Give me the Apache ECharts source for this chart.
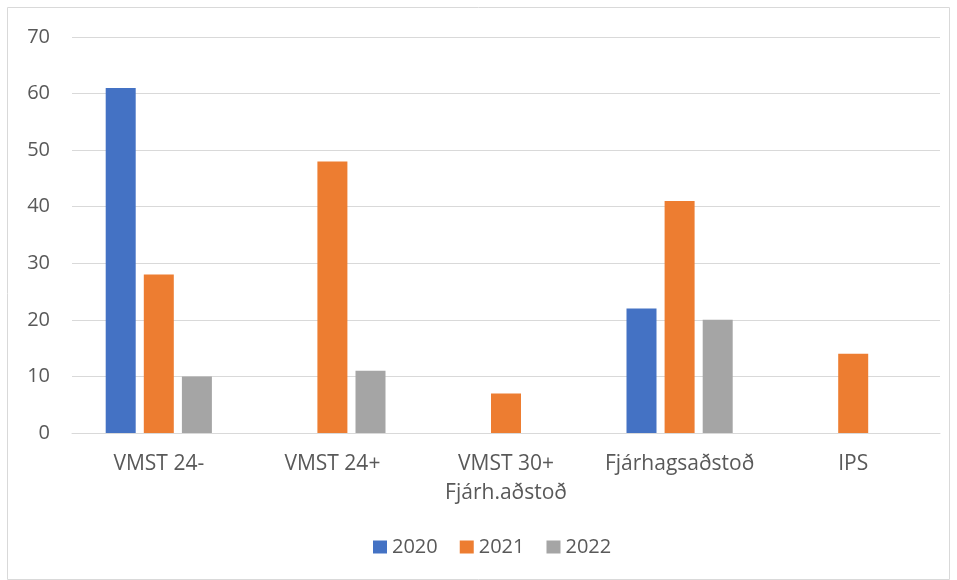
<!DOCTYPE html>
<html><head><meta charset="utf-8">
<script src="https://cdn.jsdelivr.net/npm/echarts@6/dist/echarts.min.js"></script>
<style>html,body{margin:0;padding:0;background:#fff}#c{width:957px;height:580px}</style>
</head><body><div id="c"></div>
<script>
const categories = ['VMST 24-', 'VMST 24+', 'VMST 30+\nFjárh.aðstoð', 'Fjárhagsaðstoð', 'IPS'];
const seriesNames = ['2020', '2021', '2022'];
const values2020 = [61, null, null, 22, null];
const values2021 = [28, 48, 7, 41, 14];
const values2022 = [10, 11, null, 20, null];
const yTicks = [0, 10, 20, 30, 40, 50, 60, 70];
const colors = ['#4472C4', '#ED7D31', '#A5A5A5'];
const font = '"Open Sans", "Noto Sans", sans-serif';

const chart = echarts.init(document.getElementById('c'), null, {renderer: 'canvas'});
const data = [values2020, values2021, values2022];
chart.setOption({
  animation: false,
  textStyle: {fontFamily: font},
  graphic: [{type: 'rect', shape: {x: 7.5, y: 7.5, width: 942, height: 572}, style: {fill: 'none', stroke: '#d9d9d9', lineWidth: 1}, silent: true}],
  grid: {left: 72, right: 17, top: 37, bottom: 147},
  legend: {
    top: 537, left: 373, padding: 0, itemWidth: 14, itemHeight: 13, itemGap: 22, icon: 'rect',
    textStyle: {fontSize: 20, color: '#595959', fontFamily: font},
    data: seriesNames
  },
  xAxis: {
    type: 'category', data: categories,
    axisLine: {lineStyle: {color: '#d9d9d9'}}, axisTick: {show: false},
    axisLabel: {fontSize: 21, color: '#595959', margin: 17, lineHeight: 29, fontFamily: font, interval: 0}
  },
  yAxis: {
    type: 'value', min: yTicks[0], max: yTicks[yTicks.length - 1], interval: 10,
    axisLine: {show: false}, axisTick: {show: false},
    splitLine: {lineStyle: {color: '#d9d9d9'}},
    axisLabel: {fontSize: 20, color: '#595959', margin: 22, fontFamily: font}
  },
  series: seriesNames.map((n, i) => ({
    name: n, type: 'bar', data: data[i], barWidth: 30, barGap: '27%',
    itemStyle: {color: colors[i]}
  }))
});
</script></body></html>
